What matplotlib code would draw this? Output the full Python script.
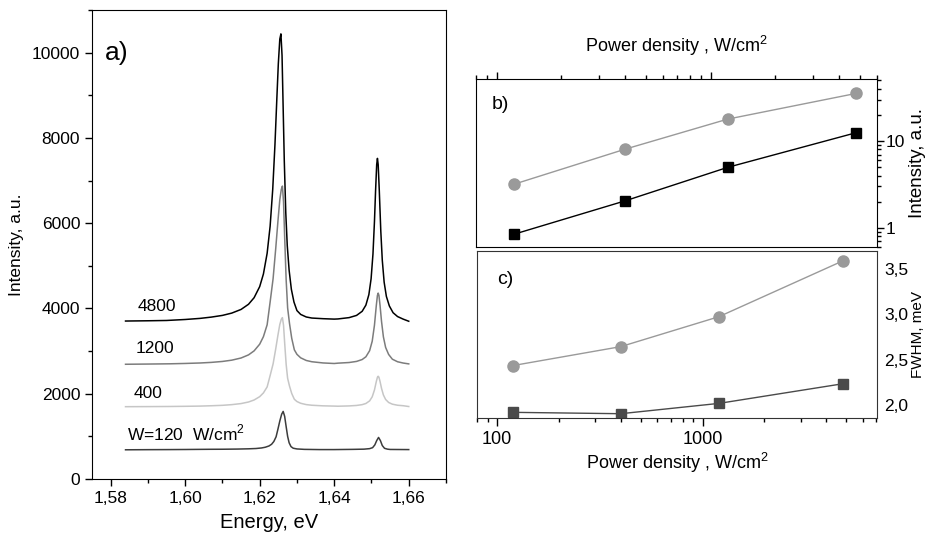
import matplotlib
matplotlib.use("Agg")
import matplotlib.pyplot as plt
from matplotlib.ticker import MultipleLocator, FixedLocator, LogLocator, NullFormatter, FuncFormatter

plt.rcParams['font.family'] = ['Liberation Sans', 'DejaVu Sans']
plt.rcParams['mathtext.fontset'] = 'custom'
plt.rcParams['mathtext.rm'] = 'Liberation Sans'

# ---------------- data: panel a) spectra (read off the picture) ----------------
e_4800 = [1.584, 1.590, 1.595, 1.600, 1.604, 1.607, 1.610, 1.6125, 1.615, 1.617, 1.6185, 1.620,
          1.621, 1.622, 1.6228, 1.6235, 1.6241, 1.6246, 1.6250, 1.6254, 1.6257,
          1.6260, 1.6263, 1.6266, 1.6270, 1.6274, 1.6279, 1.6285, 1.6292, 1.630, 1.631, 1.6325,
          1.634, 1.637, 1.640,
          1.641, 1.644, 1.646, 1.6475, 1.6485, 1.6493, 1.6499, 1.6504, 1.6508, 1.6511, 1.6514,
          1.6516, 1.6518, 1.6521, 1.6525, 1.6529, 1.6534, 1.654, 1.6548, 1.6558, 1.657, 1.6585, 1.660]
i_4800 = [3705, 3711, 3718, 3741, 3767, 3797, 3837, 3891, 3977, 4098, 4252, 4512,
          4808, 5294, 5927, 6794, 7846, 8912, 9737, 10318, 10440,
          9933, 8703, 7469, 6249, 5475, 4896, 4450, 4150, 3950, 3860, 3800,
          3775, 3760, 3750,
          3754, 3785, 3837, 3933, 4078, 4324, 4697, 5277, 6037, 6760, 7374,
          7520, 7374, 6760, 5819, 5133, 4616, 4282, 4058, 3900, 3810, 3750, 3700]

e_1200 = [1.584, 1.590, 1.596, 1.600, 1.604, 1.607, 1.610, 1.6125, 1.615, 1.617, 1.6185, 1.620,
          1.621, 1.622, 1.6228, 1.6236, 1.6243, 1.6249, 1.6254, 1.6258, 1.6261,
          1.6264, 1.6267, 1.6271, 1.6275, 1.628, 1.6286, 1.6293, 1.630, 1.631, 1.6325, 1.634,
          1.637, 1.640,
          1.641, 1.644, 1.646, 1.6475, 1.6485, 1.6495, 1.6502, 1.6508, 1.6513, 1.6516, 1.6518,
          1.652, 1.6523, 1.6527, 1.6532, 1.6538, 1.6546, 1.6556, 1.657, 1.6585, 1.660]
i_1200 = [2691, 2696, 2702, 2710, 2721, 2735, 2757, 2787, 2838, 2911, 3005, 3162,
          3338, 3617, 4150, 4700, 5400, 6050, 6550, 6792, 6870,
          6499, 5683, 4676, 4012, 3650, 3300, 3030, 2924, 2842, 2780, 2750,
          2722, 2709,
          2717, 2732, 2758, 2802, 2866, 3009, 3232, 3607, 4072, 4307, 4360,
          4307, 4072, 3694, 3334, 3085, 2922, 2810, 2750, 2720, 2700]

e_400 = e_1200
i_400 = [1696, 1698, 1701, 1705, 1710, 1718, 1728, 1744, 1769, 1806, 1853, 1931,
         2019, 2159, 2425, 2700, 3050, 3375, 3625, 3746, 3785,
         3605, 3197, 2693, 2361, 2180, 2005, 1870, 1817, 1776, 1745, 1730,
         1716, 1710,
         1707, 1714, 1725, 1744, 1771, 1832, 1928, 2088, 2287, 2388, 2410,
         2388, 2287, 2125, 1971, 1865, 1795, 1755, 1730, 1719, 1700]

e_120 = [1.584, 1.590, 1.596, 1.600, 1.604, 1.607, 1.610, 1.614, 1.617, 1.619, 1.6205, 1.6215,
         1.6225, 1.6232, 1.6238, 1.6244, 1.6249, 1.6254, 1.6259, 1.6263, 1.6267, 1.6271,
         1.6275, 1.6279, 1.6284, 1.629, 1.630, 1.632, 1.636, 1.640, 1.645, 1.648, 1.6495,
         1.6503, 1.6509, 1.6514, 1.6519, 1.6524, 1.6529, 1.6535, 1.6543, 1.655, 1.660]
i_120 = [685, 688, 690, 692, 695, 697, 698, 702, 708, 715, 728, 745,
         775, 815, 880, 990, 1170, 1360, 1520, 1585, 1470, 1230,
         1000, 850, 760, 722, 705, 695, 690, 690, 695, 700, 712,
         735, 800, 900, 975, 900, 785, 720, 700, 693, 690]

spec_labels = ["4800", "1200", "400", "W=120  W/cm$^2$"]
spec_label_x = [1.5873, 1.5868, 1.5862, 1.5844]
spec_label_y = [4050, 3060, 2000, 1080]

# ---------------- data: panels b) and c) ----------------
power = [120, 400, 1200, 4800]
intens_circle = [3.17, 8.09, 17.9, 35.5]
intens_square = [0.84, 2.05, 4.97, 12.5]
fwhm_circle = [2.437, 2.644, 2.972, 3.583]
fwhm_square = [1.924, 1.909, 2.022, 2.237]

W, H = 927, 544
fig = plt.figure(figsize=(W / 100, H / 100), dpi=100)

def rect(l, t, r, b):
    return [l / W, 1 - b / H, (r - l) / W, (b - t) / H]

# ---------------- panel a ----------------
ax = fig.add_axes(rect(92, 10, 446, 479))
ax.plot(e_4800, i_4800, color='black', lw=1.1)
ax.plot(e_1200, i_1200, color='#7c7c7c', lw=1.1)
ax.plot(e_400, i_400, color='#c6c6c6', lw=1.1)
ax.plot(e_120, i_120, color='#3c3c3c', lw=1.1)
for lab, xx, yy in zip(spec_labels, spec_label_x, spec_label_y):
    ax.text(xx, yy, lab, fontsize=12.5, ha='left', va='center')
ax.text(1.5785, 10000, "a)", fontsize=19, ha='left', va='center')
ax.set_xlim(1.575, 1.670)
ax.set_ylim(0, 11000)
ax.xaxis.set_major_locator(FixedLocator([1.58, 1.60, 1.62, 1.64, 1.66]))
ax.xaxis.set_minor_locator(FixedLocator([1.59, 1.61, 1.63, 1.65, 1.67]))
ax.xaxis.set_major_formatter(FuncFormatter(lambda v, p: f"{v:.2f}".replace('.', ',')))
ax.yaxis.set_major_locator(MultipleLocator(2000))
ax.yaxis.set_minor_locator(MultipleLocator(1000))
ax.tick_params(which='both', direction='out', labelsize=12.5, top=False, right=False)
ax.tick_params(which='major', length=5, width=1)
ax.tick_params(which='minor', length=3, width=1)
ax.set_xlabel("Energy, eV", fontsize=14.5, labelpad=5)
ax.set_ylabel("Intensity, a.u.", fontsize=12.5, labelpad=6)

# ---------------- panel b ----------------
axb = fig.add_axes(rect(476, 79, 877, 247))
axb.plot(power, intens_circle, color='#9a9a9a', lw=1.0, marker='o', ms=8, mec='#9a9a9a', mfc='#9a9a9a')
axb.plot(power, intens_square, color='black', lw=1.0, marker='s', ms=7, mec='black', mfc='black')
axb.set_xscale('log')
axb.set_yscale('log')
axb.set_xlim(80, 6000)
axb.set_ylim(0.6, 52)
axb.xaxis.tick_top()
axb.xaxis.set_label_position('top')
axb.xaxis.set_major_locator(LogLocator(base=10, numticks=10))
axb.xaxis.set_minor_locator(LogLocator(base=10, subs=range(2, 10), numticks=20))
axb.xaxis.set_major_formatter(NullFormatter())
axb.xaxis.set_minor_formatter(NullFormatter())
axb.yaxis.tick_right()
axb.yaxis.set_major_locator(FixedLocator([1, 10]))
axb.yaxis.set_minor_locator(FixedLocator([0.6, 0.7, 0.8, 0.9, 2, 3, 4, 5, 6, 7, 8, 9, 20, 30, 40, 50]))
axb.yaxis.set_major_formatter(FuncFormatter(lambda v, p: f"{v:g}"))
axb.yaxis.set_minor_formatter(NullFormatter())
axb.tick_params(which='both', direction='out', labelsize=12.5, left=False, bottom=False)
axb.tick_params(which='major', length=5, width=1)
axb.tick_params(which='minor', length=3, width=1)
axb.tick_params(axis='y', which='major', pad=1)
axb.set_xlabel("Power density , W/cm$^2$", fontsize=13, labelpad=11)
axb.text(0.04, 0.85, "b)", transform=axb.transAxes, fontsize=14, ha='left', va='center')
fig.text(917 / W, 1 - 163 / H, "Intensity, a.u.", rotation=90, fontsize=13.5,
         ha='center', va='center')

# ---------------- panel c ----------------
axc = fig.add_axes(rect(477, 251, 877, 418))
axc.plot(power, fwhm_circle, color='#9a9a9a', lw=1.0, marker='o', ms=8, mec='#9a9a9a', mfc='#9a9a9a')
axc.plot(power, fwhm_square, color='#4a4a4a', lw=1.0, marker='s', ms=7, mec='#4a4a4a', mfc='#4a4a4a')
axc.set_xscale('log')
axc.set_xlim(80, 7050)
axc.set_ylim(1.862, 3.692)
axc.xaxis.set_major_locator(LogLocator(base=10, numticks=10))
axc.xaxis.set_minor_locator(LogLocator(base=10, subs=range(2, 10), numticks=20))
axc.xaxis.set_major_formatter(FuncFormatter(lambda v, p: f"{v:g}"))
axc.xaxis.set_minor_formatter(NullFormatter())
axc.yaxis.tick_right()
axc.yaxis.set_major_locator(FixedLocator([2.0, 2.5, 3.0, 3.5]))
axc.yaxis.set_major_formatter(FuncFormatter(lambda v, p: f"{v:.1f}".replace('.', ',')))
axc.tick_params(which='both', direction='out', labelsize=13, left=False, top=False)
axc.tick_params(which='major', length=6, width=1)
axc.tick_params(which='minor', length=3, width=1)
axc.tick_params(axis='y', which='major', length=0, labelsize=12.5, pad=5)
axc.set_xlabel("Power density , W/cm$^2$", fontsize=13, labelpad=2)
axc.text(0.05, 0.83, "c)", transform=axc.transAxes, fontsize=14, ha='left', va='center')
fig.text(918 / W, 1 - 335 / H, "FWHM, meV", rotation=90, fontsize=11,
         ha='center', va='center')
for s in axc.spines.values():
    s.set_edgecolor('#333333')

fig.savefig("out.png", dpi=100)
